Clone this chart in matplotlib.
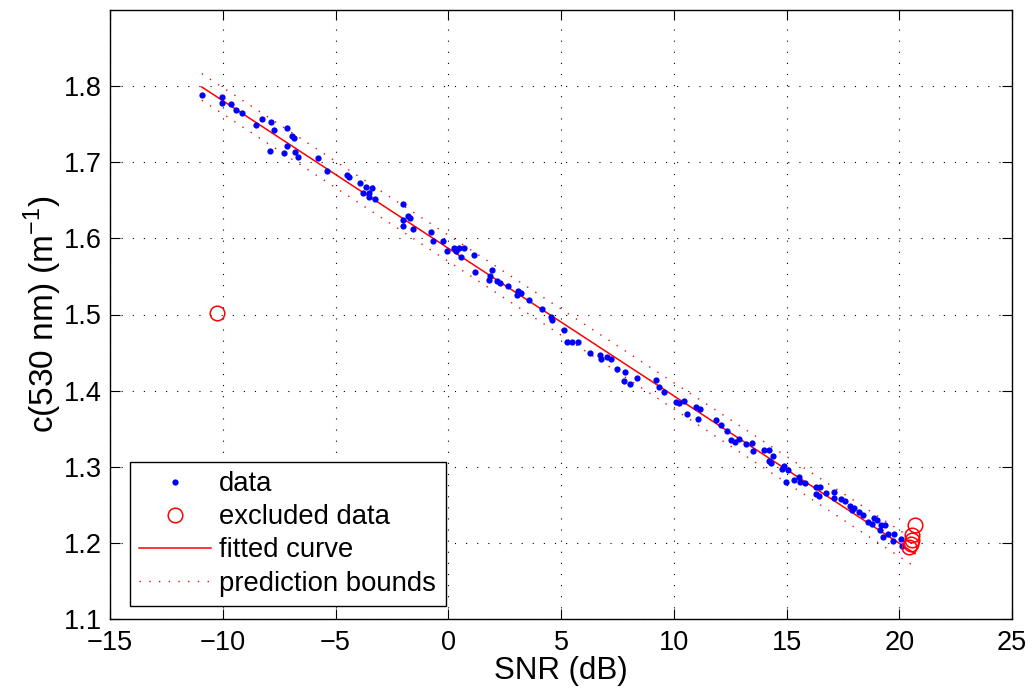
import numpy as np
import matplotlib
matplotlib.use("Agg")
import matplotlib.pyplot as plt

# Beam attenuation c(530 nm) against signal-to-noise ratio
snr_db = [
    -10.93, -10.05, -10.02, -9.63, -9.41, -9.16, -8.53, -8.27, -7.86, -7.71,
    -7.89, -7.30, -7.14, -6.95, -6.83, -7.14, -6.78, -6.68, -5.79, -5.38,
    -4.50, -4.40, -3.90, -3.65, -3.40, -3.77, -3.51, -3.51, -3.24,
    -2.01, -2.01, -1.80, -1.71, -1.99, -1.56, -0.78, -0.68, -0.22, -0.07,
    0.24, 0.36, 0.48, 0.68, 0.55, 1.16, 1.19, 1.95, 1.85, 1.82,
    2.18, 2.31, 2.64, 3.04, 3.09, 3.23, 3.60, 4.16, 4.55, 4.62,
    5.13, 5.27, 5.50, 5.77, 6.27, 6.72, 6.77, 7.04, 7.20, 7.47,
    7.82, 7.78, 8.06, 8.38, 9.23, 9.36, 9.58, 10.11, 10.22, 10.45,
    10.57, 10.97, 11.16, 11.09, 11.86, 12.10, 12.35, 12.55, 12.70, 12.90,
    13.20, 13.48, 13.53, 14.00, 14.21, 14.22, 14.33, 14.42, 14.79, 14.87,
    15.07, 14.96, 15.33, 15.55, 15.61, 15.83, 16.31, 16.50, 16.32, 16.42,
    16.75, 17.12, 17.12, 17.40, 17.60, 17.80, 17.90, 18.00, 18.20, 18.40,
    18.60, 18.80, 18.90, 19.00, 19.15, 19.19, 19.37, 19.27, 19.49, 19.78,
    19.71, 20.08, 20.11,
]
c530 = [
    1.788, 1.786, 1.778, 1.777, 1.768, 1.765, 1.749, 1.757, 1.753, 1.743,
    1.715, 1.712, 1.745, 1.735, 1.732, 1.722, 1.714, 1.707, 1.706, 1.688,
    1.683, 1.681, 1.673, 1.668, 1.666, 1.659, 1.659, 1.654, 1.652,
    1.645, 1.624, 1.629, 1.627, 1.616, 1.612, 1.608, 1.597, 1.596, 1.584,
    1.587, 1.583, 1.587, 1.587, 1.575, 1.578, 1.556, 1.559, 1.551, 1.545,
    1.544, 1.542, 1.538, 1.526, 1.531, 1.528, 1.519, 1.507, 1.497, 1.493,
    1.480, 1.464, 1.464, 1.464, 1.450, 1.447, 1.441, 1.444, 1.441, 1.428,
    1.424, 1.412, 1.409, 1.417, 1.414, 1.405, 1.398, 1.385, 1.384, 1.386,
    1.369, 1.378, 1.376, 1.363, 1.361, 1.355, 1.347, 1.335, 1.333, 1.336,
    1.330, 1.331, 1.321, 1.322, 1.322, 1.308, 1.305, 1.314, 1.297, 1.301,
    1.296, 1.280, 1.282, 1.286, 1.280, 1.278, 1.273, 1.273, 1.264, 1.262,
    1.266, 1.267, 1.259, 1.258, 1.255, 1.248, 1.243, 1.246, 1.240, 1.236,
    1.228, 1.225, 1.233, 1.230, 1.217, 1.224, 1.223, 1.208, 1.212, 1.212,
    1.203, 1.205, 1.196,
]

# Points left out of the fit
excl_snr = [-10.27, 20.70, 20.58, 20.55, 20.50, 20.45]
excl_c = [1.502, 1.224, 1.211, 1.204, 1.198, 1.195]

x_ticks = [-15, -10, -5, 0, 5, 10, 15, 20, 25]
y_ticks = [1.1, 1.2, 1.3, 1.4, 1.5, 1.6, 1.7, 1.8]

x = np.asarray(snr_db)
y = np.asarray(c530)

# Linear least-squares fit and 95% observation prediction bounds
slope, icpt = np.polyfit(x, y, 1)
n = len(x)
resid = y - (slope * x + icpt)
s = np.sqrt(np.sum(resid ** 2) / (n - 2))
xbar = x.mean()
sxx = np.sum((x - xbar) ** 2)
t_val = 1.978

xmin = min(x.min(), min(excl_snr))
xmax = max(x.max(), max(excl_snr))
xf = np.linspace(xmin, xmax, 200)
yf = slope * xf + icpt
half = t_val * s * np.sqrt(1 + 1 / n + (xf - xbar) ** 2 / sxx)

plt.rcParams['font.family'] = ['Liberation Sans', 'DejaVu Sans']

fig = plt.figure(figsize=(10.34, 6.98), dpi=100)
ax = fig.add_axes([110 / 1034, 79 / 698, 902 / 1034, 609 / 698])

ax.plot(x, y, 'o', color='#0000ff', ms=4.5, mec='none', label='data', zorder=3)
ax.plot(excl_snr, excl_c, 'o', mfc='none', mec='#ff0000', mew=1.1, ms=10.5,
        label='excluded data', zorder=4)
ax.plot(xf, yf, '-', color='#ff0000', lw=1.1, label='fitted curve', zorder=2)
ax.plot(xf, yf + half, color='#ff0000', lw=1.0, linestyle=(0, (1, 6)),
        label='prediction bounds', zorder=2)
ax.plot(xf, yf - half, color='#ff0000', lw=1.0, linestyle=(0, (1, 6)), zorder=2)

ax.set_xlim(-15, 25)
ax.set_ylim(1.1, 1.9)
ax.set_xticks(x_ticks)
ax.set_yticks(y_ticks)
ax.set_xticklabels([f"{v:d}".replace('-', '\u2212') for v in x_ticks])
ax.set_yticklabels([f"{v:.1f}" for v in y_ticks])

ax.grid(True, color='black', linestyle=(0, (1, 9)), linewidth=0.8)
ax.tick_params(direction='in', length=7, width=0.8, top=True, right=True,
               labelsize=19.5, colors='black')
ax.tick_params(axis='x', pad=8)
ax.tick_params(axis='y', pad=6)
for sp in ax.spines.values():
    sp.set_linewidth(1.0)

ax.set_xlabel('SNR (dB)', fontsize=22.5, labelpad=0)
ax.set_ylabel('c(530 nm) (m$^{\\mathregular{-1}}$)', fontsize=24, labelpad=0)

leg = ax.legend(loc='lower left', bbox_to_anchor=(0.022, 0.021),
                borderaxespad=0, fontsize=19.8, frameon=True, fancybox=False,
                edgecolor='black', framealpha=1, handlelength=2.6,
                handletextpad=0.3, borderpad=0.35, labelspacing=0.26,
                numpoints=1)
leg.get_frame().set_linewidth(1.0)

fig.savefig('out.png', dpi=100)
